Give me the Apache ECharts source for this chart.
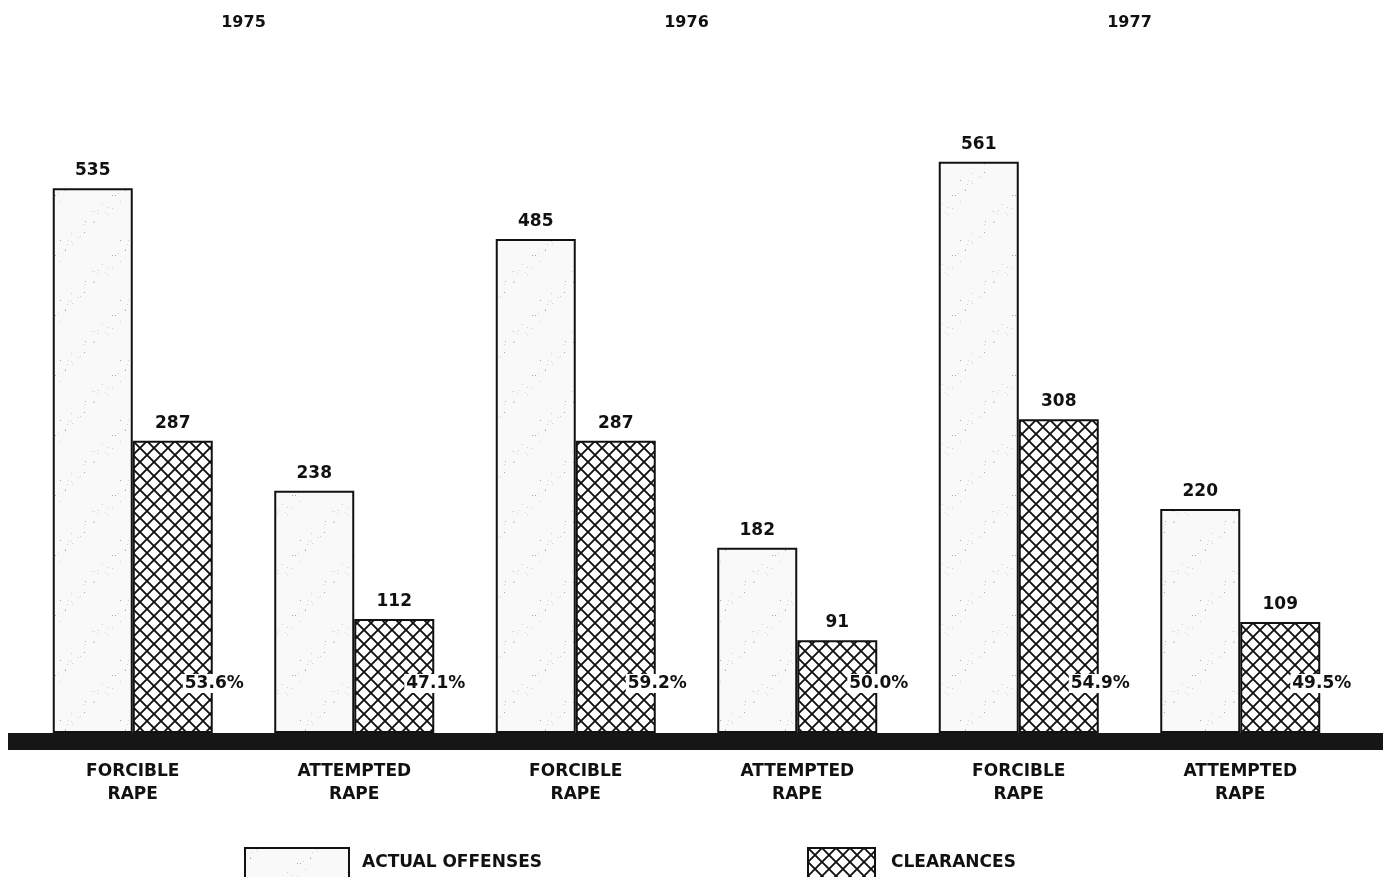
<!DOCTYPE html>
<html>
<head>
<meta charset="utf-8">
<script src="https://cdn.jsdelivr.net/npm/echarts@6/dist/echarts.min.js"></script>
<style>
html,body{margin:0;padding:0;background:#fff;}
#chart{width:1386px;height:877px;}
</style>
</head>
<body>
<div id="chart"></div>
<script>
// ---- data ----
const years = ['1975', '1976', '1977'];
const categories = ['FORCIBLE\nRAPE', 'ATTEMPTED\nRAPE', 'FORCIBLE\nRAPE', 'ATTEMPTED\nRAPE', 'FORCIBLE\nRAPE', 'ATTEMPTED\nRAPE'];
const actualOffenses = [535, 238, 485, 182, 561, 220];
const clearances = [287, 112, 287, 91, 308, 109];
const clearanceRates = ['53.6%', '47.1%', '59.2%', '50.0%', '54.9%', '49.5%'];
const seriesNames = ['ACTUAL OFFENSES', 'CLEARANCES'];

// ---- textures ----
function makeStipple() {
  const c = document.createElement('canvas');
  c.width = 60; c.height = 60;
  const ctx = c.getContext('2d');
  ctx.fillStyle = '#f9f9f9';
  ctx.fillRect(0, 0, 60, 60);
  for (let i = 0; i < 28; i++) {
    const x = (i * 37 + (i * i) % 11) % 60;
    const y = (i * 23 + (i * i * 7) % 17) % 60;
    ctx.fillStyle = (i % 4 === 0) ? '#a8a8a8' : '#d2d2d2';
    ctx.fillRect(x, y, 1, 1);
  }
  return c;
}
function makeHatch() {
  const s = 14;
  const c = document.createElement('canvas');
  c.width = s; c.height = s;
  const ctx = c.getContext('2d');
  ctx.fillStyle = '#ffffff';
  ctx.fillRect(0, 0, s, s);
  ctx.strokeStyle = '#111';
  ctx.lineWidth = 1.9;
  for (let k = -1; k <= 1; k++) {
    ctx.beginPath();
    ctx.moveTo(k * s, 0); ctx.lineTo(k * s + s, s);
    ctx.moveTo(k * s + s, 0); ctx.lineTo(k * s, s);
    ctx.stroke();
  }
  return c;
}
const stipple = { image: makeStipple(), repeat: 'repeat' };
const hatch = { image: makeHatch(), repeat: 'repeat' };

const FONT = 'DejaVu Sans';
const chart = echarts.init(document.getElementById('chart'), null, { renderer: 'canvas' });

chart.setOption({
  animation: false,
  backgroundColor: '#ffffff',
  grid: [
    { left: 22, right: 35, top: 122, bottom: 144 },
    { left: 8, right: 3, top: 122, bottom: 135.5 }
  ],
  legend: [
    {
      data: [seriesNames[0]], left: 239, top: 842, icon: 'rect',
      itemWidth: 104, itemHeight: 30, selectedMode: false,
      textStyle: { fontFamily: FONT, fontSize: 17, fontWeight: 'bold', color: '#111', padding: [0, 0, 0, 8] }
    },
    {
      data: [seriesNames[1]], left: 802, top: 842, icon: 'rect',
      itemWidth: 67, itemHeight: 30, selectedMode: false,
      textStyle: { fontFamily: FONT, fontSize: 17, fontWeight: 'bold', color: '#111', padding: [0, 0, 0, 11] }
    }
  ],
  xAxis: [
    {
      gridIndex: 0, type: 'category', data: categories,
      axisLine: { show: false }, axisTick: { show: false },
      axisLabel: { margin: 27, fontFamily: FONT, fontSize: 17, fontWeight: 'bold', lineHeight: 23, color: '#111' }
    },
    {
      gridIndex: 0, type: 'category', data: years, position: 'top',
      axisLine: { show: false }, axisTick: { show: false },
      axisLabel: { margin: 91, fontFamily: FONT, fontSize: 16, fontWeight: 'bold', color: '#111' }
    },
    {
      gridIndex: 0, type: 'category', data: categories, show: false
    },
    {
      gridIndex: 1, type: 'category', data: [''],
      axisLine: { show: true, onZero: false, lineStyle: { color: '#161616', width: 17, cap: 'butt' } },
      axisTick: { show: false }, axisLabel: { show: false }
    }
  ],
  yAxis: [
    { gridIndex: 0, type: 'value', min: 0, max: 600, show: false },
    { gridIndex: 1, type: 'value', min: 0, max: 1, show: false }
  ],
  series: [
    {
      name: seriesNames[0], type: 'bar', xAxisIndex: 0, yAxisIndex: 0,
      data: actualOffenses, barWidth: 80, barGap: '0%',
      itemStyle: { color: stipple, borderColor: '#111', borderWidth: 2 },
      label: { show: true, position: 'top', distance: 9, fontFamily: FONT, fontSize: 17, fontWeight: 'bold', color: '#111' }
    },
    {
      name: seriesNames[1], type: 'bar', xAxisIndex: 0, yAxisIndex: 0,
      data: clearances, barWidth: 80, barGap: '0%',
      itemStyle: { color: hatch, borderColor: '#111', borderWidth: 2 },
      label: { show: true, position: 'top', distance: 9, fontFamily: FONT, fontSize: 17, fontWeight: 'bold', color: '#111' }
    },
    {
      name: 'rates', type: 'bar', xAxisIndex: 2, yAxisIndex: 0,
      data: clearances, barWidth: 160, silent: true, z: 5,
      itemStyle: { color: 'rgba(0,0,0,0)', borderWidth: 0 },
      label: {
        show: true, position: 'insideBottomRight', distance: 0, offset: [33, -40],
        formatter: p => clearanceRates[p.dataIndex],
        fontFamily: FONT, fontSize: 17, fontWeight: 'bold', color: '#111',
        backgroundColor: '#ffffff', padding: [1, 2, 1, 2]
      }
    }
  ]
});
</script>
</body>
</html>
